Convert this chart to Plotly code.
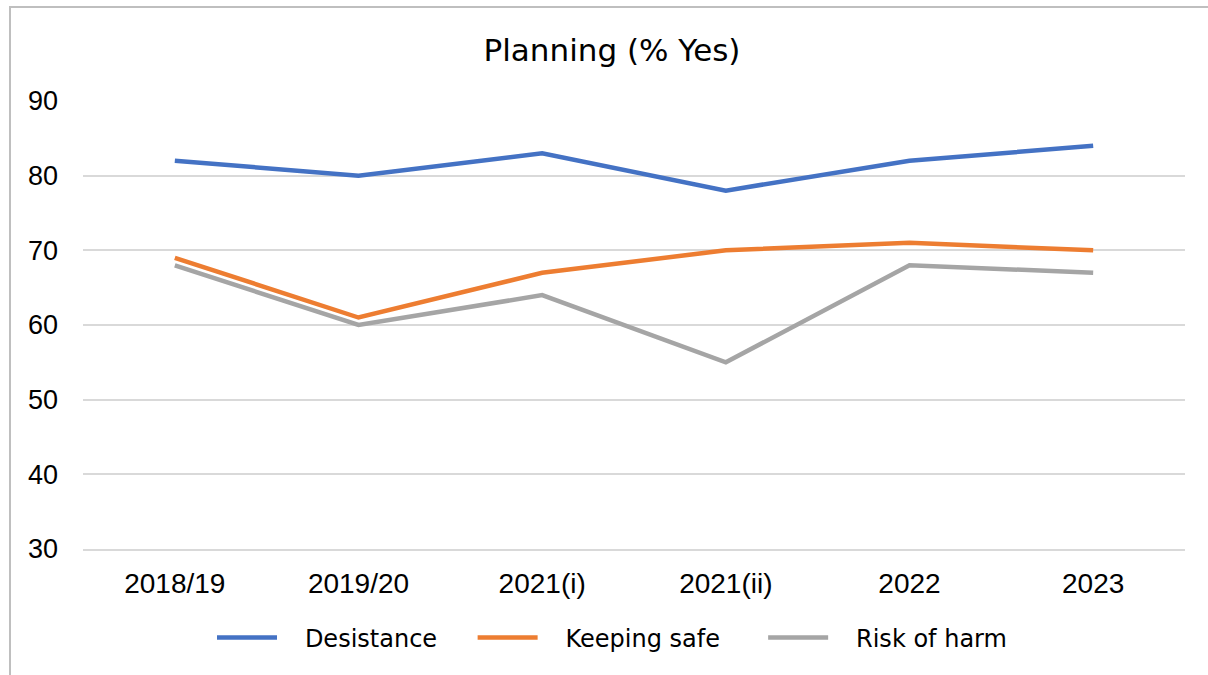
import plotly.graph_objects as go

categories = ["2018/19", "2019/20", "2021(i)", "2021(ii)", "2022", "2023"]
desistance = [82, 80, 83, 78, 82, 84]
keeping_safe = [69, 61, 67, 70, 71, 70]
risk_of_harm = [68, 60, 64, 55, 68, 67]
y_ticks = [30, 40, 50, 60, 70, 80, 90]

series = [
    ("Desistance", desistance, "#4472C4", "    "),
    ("Keeping safe", keeping_safe, "#ED7D31", "     "),
    ("Risk of harm", risk_of_harm, "#A5A5A5", ""),
]

fig = go.Figure()
for name, vals, col, trail in series:
    fig.add_trace(go.Scatter(x=categories, y=vals, name="   " + name + trail,
                             mode="lines", line=dict(color=col, width=4.5)))

W, H = 1208, 675
L, R, T, B = 83, 23, 101, 126
pw, ph = W - L - R, H - T - B

fig.update_layout(
    width=W, height=H,
    margin=dict(l=L, r=R, t=T, b=B),
    paper_bgcolor="white", plot_bgcolor="white",
    title=dict(text="Planning (% Yes)", x=612 / W, xanchor="center",
               y=1 - 50 / H, yanchor="middle",
               font=dict(family="DejaVu Sans", size=31, color="black")),
    showlegend=True,
    legend=dict(orientation="h", x=(212 - L) / pw, xanchor="left",
                y=-(638 - (T + ph)) / ph, yanchor="middle",
                font=dict(family="DejaVu Sans", size=24, color="black"),
                itemwidth=60, tracegroupgap=0),
    xaxis=dict(type="category", range=[-0.5, 5.5], showgrid=False, zeroline=False,
               showline=True, linecolor="#D9D9D9", linewidth=1.5, ticks="",
               ticklabelstandoff=9,
               tickfont=dict(family="Liberation Sans", size=28, color="black")),
    yaxis=dict(range=[30, 90], tickvals=y_ticks, showgrid=True, gridcolor="#D9D9D9",
               gridwidth=1.5, zeroline=False, showline=False, ticks="",
               ticklabelstandoff=24,
               tickfont=dict(family="Liberation Sans", size=27, color="black")),
)

# outer chart border (light gray)
fig.add_shape(type="rect", xref="paper", yref="paper",
              x0=(10 - L) / pw, x1=(W + 20 - L) / pw,
              y0=-(H + 20 - (T + ph)) / ph, y1=1 + (T - 7) / ph,
              line=dict(color="#BFBFBF", width=2), fillcolor="rgba(0,0,0,0)", layer="below")

fig.write_html("out.html", config={"displayModeBar": False},
               post_script="document.body.style.margin='0';")
